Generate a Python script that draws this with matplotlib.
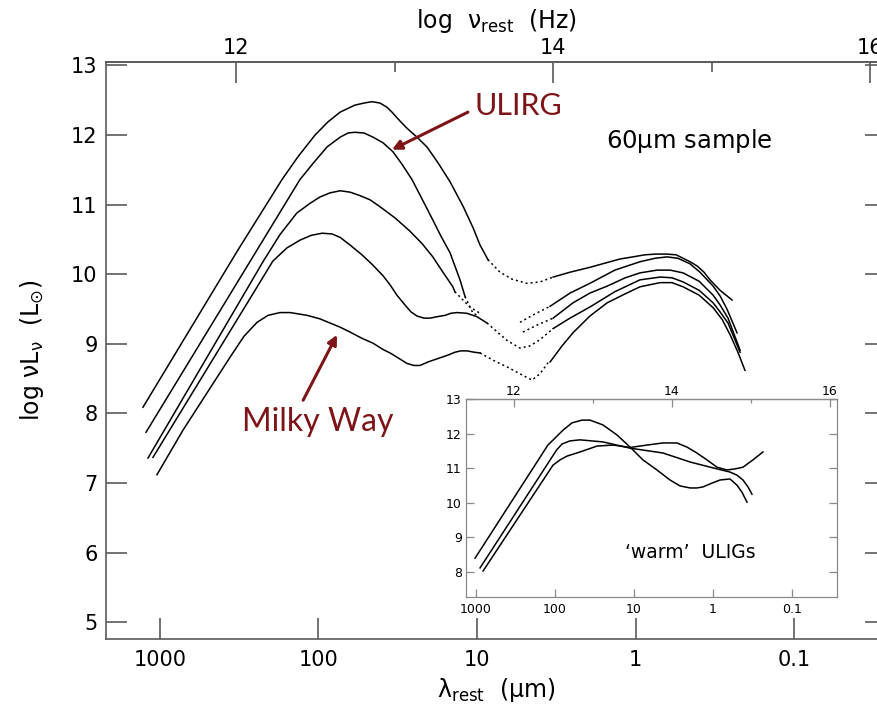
import numpy as np
import matplotlib
matplotlib.use('Agg')
import matplotlib.pyplot as plt
from matplotlib.ticker import FixedLocator, NullLocator, FixedFormatter, NullFormatter

plt.rcParams['font.family'] = ['DejaVu Sans']
plt.rcParams['mathtext.default'] = 'regular'

# ---- main panel: 60 um sample (lambda_rest in um, log nuL_nu in Lsun)
# each SED: far-IR solid part, dotted gap, near-IR solid part
lam_a = [1280, 322, 170, 134.6, 105.2, 87.1, 73, 59, 51.6, 46, 40.9, 37, 34.4, 32, 29.7, 27.7,
         23.9, 20.7, 17.6, 14.8, 12.2, 10.6, 9.57, 8.53]
L_a = [8.09, 10.35, 11.36, 11.69, 12.00, 12.19, 12.33, 12.43, 12.46, 12.48, 12.46, 12.40, 12.33,
       12.25, 12.17, 12.10, 11.97, 11.83, 11.60, 11.33, 10.97, 10.67, 10.42, 10.21]
lam_a_dot = [8.53, 7.16, 6.01, 4.84, 4.01, 3.31]
L_a_dot = [10.21, 10.03, 9.93, 9.87, 9.89, 9.96]
lam_a_nir = [3.31, 2.59, 1.94, 1.56, 1.25, 1.04, 0.871, 0.743, 0.633, 0.555, 0.501, 0.453, 0.409,
             0.370, 0.339, 0.293, 0.246]
L_a_nir = [9.96, 10.03, 10.10, 10.16, 10.22, 10.25, 10.28, 10.29, 10.29, 10.28, 10.23, 10.18,
           10.12, 10.03, 9.92, 9.77, 9.63]

lam_b = [1225, 244, 131, 106.7, 88.3, 73, 65.1, 59, 51.6, 45.3, 39.2, 33.9, 29.7, 25.7, 22.2,
         19.0, 16.9, 14.8, 12.8, 11.9]
L_b = [7.73, 10.35, 11.36, 11.61, 11.83, 11.97, 12.03, 12.04, 12.03, 11.97, 11.89, 11.76, 11.58,
       11.36, 11.08, 10.78, 10.55, 10.31, 9.92, 9.68]
lam_b_dot = [11.9, 10.6, 9.86, np.nan, 5.36, 4.31, 3.46]
L_b_dot = [9.68, 9.44, 9.41, np.nan, 9.31, 9.43, 9.54]
lam_b_nir = [3.46, 2.59, 1.94, 1.35, 0.938, 0.753, 0.633, 0.540, 0.453, 0.392, 0.324, 0.293,
             0.265, 0.229]
L_b_nir = [9.54, 9.73, 9.87, 10.06, 10.18, 10.23, 10.25, 10.23, 10.15, 10.03, 9.83, 9.69,
           9.50, 9.16]

lam_c = [1190, 224, 175, 137, 113, 98, 84.6, 73, 63.2, 54.7, 47.3, 40.9, 32.9, 26.5, 22.2, 19.0,
         16.4, 14.2, 13.8]
L_c = [7.36, 10.18, 10.57, 10.88, 11.02, 11.11, 11.17, 11.20, 11.18, 11.13, 11.07, 10.97, 10.81,
       10.62, 10.44, 10.25, 10.03, 9.82, 9.75]
lam_c_dot = [13.8, 11.1, 9.57, np.nan, 5.13, 4.19, 3.31]
L_c_dot = [9.75, 9.53, 9.44, np.nan, 9.17, 9.27, 9.37]
lam_c_nir = [3.31, 2.48, 1.94, 1.51, 1.16, 0.938, 0.731, 0.605, 0.501, 0.397, 0.324, 0.293,
             0.261, 0.219]
L_c_nir = [9.37, 9.59, 9.73, 9.83, 9.95, 10.02, 10.06, 10.06, 10.02, 9.90, 9.70, 9.56, 9.37, 8.91]

lam_d = [1107, 274, 194, 158, 131, 111, 95, 82.2, 73, 63.2, 53.2, 45.3, 39.2, 35.4, 32, 28.5,
         26.1, 23.9, 21.6, 19.8, 17.9, 15.9, 14.6, 13.4, 11.6, 10.0, 8.65]
L_d = [7.37, 9.63, 10.19, 10.38, 10.49, 10.56, 10.59, 10.58, 10.53, 10.42, 10.28, 10.13, 9.98,
       9.85, 9.70, 9.56, 9.46, 9.40, 9.37, 9.37, 9.39, 9.41, 9.44, 9.45, 9.44, 9.39, 9.30]
lam_d_dot = [8.65, 7.7, 6.47, 5.36, 4.64, 4.01, 3.31]
L_d_dot = [9.30, 9.20, 9.05, 8.94, 8.97, 9.06, 9.22]
lam_d_nir = [3.31, 2.59, 1.94, 1.35, 0.938, 0.700, 0.589, 0.501, 0.397, 0.324, 0.293, 0.261, 0.219]
L_d_nir = [9.22, 9.37, 9.53, 9.75, 9.92, 9.96, 9.95, 9.89, 9.77, 9.59, 9.46, 9.30, 8.88]

# Milky Way
lam_e = [1045, 716, 361, 295, 244, 208, 175, 151, 118, 98, 84.6, 73, 63.2, 53.2, 45.3, 39.2,
         35.4, 31.5, 27.7, 25.0, 22.9, 20.4, 17.1, 15.2, 13.8, 12.6, 11.6, 10.4, 9.57]
L_e = [7.12, 7.76, 8.81, 9.11, 9.31, 9.41, 9.45, 9.45, 9.41, 9.36, 9.30, 9.24, 9.17, 9.08, 9.01,
       8.92, 8.87, 8.80, 8.72, 8.69, 8.69, 8.74, 8.80, 8.84, 8.88, 8.90, 8.90, 8.88, 8.87]
lam_e_dot = [9.57, 7.69, 6.47, 5.36, 4.50, 4.01, 3.56]
L_e_dot = [8.87, 8.75, 8.67, 8.57, 8.48, 8.57, 8.73]
lam_e_nir = [3.46, 2.91, 2.48, 1.94, 1.51, 1.16, 0.938, 0.700, 0.589, 0.501, 0.397, 0.324, 0.284,
             0.253, 0.226, 0.204]
L_e_nir = [8.74, 8.97, 9.16, 9.40, 9.59, 9.72, 9.82, 9.88, 9.88, 9.82, 9.70, 9.52, 9.35, 9.13,
           8.88, 8.62]

# ---- inset: 'warm' ULIGs
lam_w1 = [1030, 123, 97, 79.2, 61, 45.5, 36.1, 24.7, 16.4, 11.2, 7.7, 5.12, 3.50, 2.62, 1.95,
          1.60, 1.34, 1.03, 0.815, 0.609, 0.497, 0.430, 0.371]
L_w1 = [8.40, 11.67, 11.90, 12.10, 12.31, 12.39, 12.39, 12.25, 11.96, 11.61, 11.24, 10.95, 10.66,
        10.49, 10.43, 10.43, 10.46, 10.57, 10.66, 10.69, 10.51, 10.31, 10.02]
lam_w2 = [890, 95.3, 81.5, 64.6, 48.3, 24.7, 11.2, 4.30, 1.95, 1.0, 0.609, 0.497, 0.417, 0.360, 0.321]
L_w2 = [8.12, 11.53, 11.70, 11.79, 11.82, 11.76, 11.58, 11.44, 11.18, 11.01, 10.89, 10.80, 10.66,
        10.46, 10.25]
lam_w3 = [815, 106, 86.5, 70.5, 48.3, 29.4, 18.5, 11.2, 6.84, 4.30, 2.86, 2.13, 1.60, 1.19, 0.89,
          0.665, 0.527, 0.417, 0.312, 0.233]
L_w3 = [8.03, 11.09, 11.24, 11.35, 11.47, 11.64, 11.67, 11.60, 11.67, 11.73, 11.73, 11.61, 11.44,
        11.24, 11.03, 10.95, 10.98, 11.03, 11.24, 11.47]

lam_ticks = [1000, 100, 10, 1, 0.1]
lam_ticklabels = ['1000', '100', '10', '1', '0.1']
nu_major = [12, 14, 16]
nu_minor = [13, 15]
nu_offset = 14.52   # log nu = nu_offset - log lambda(um), as drawn on the top axis

red = '#7d1518'
spine_col = '#5a5a5a'


def lam2nu(x):
    return nu_offset - np.log10(x)


def nu2lam(n):
    return 10 ** (nu_offset - np.asarray(n))


def style_axes(a, size, length, labelsize, pad_x, pad_y, col, lw):
    a.set_xscale('log')
    a.xaxis.set_major_locator(FixedLocator(lam_ticks))
    a.xaxis.set_major_formatter(FixedFormatter(lam_ticklabels))
    a.xaxis.set_minor_locator(NullLocator())
    a.tick_params(axis='both', direction='in', length=length, width=lw, color=col,
                  labelsize=labelsize, right=True, top=False)
    a.tick_params(axis='x', pad=pad_x)
    a.tick_params(axis='y', pad=pad_y)
    for s in a.spines.values():
        s.set_color(col)
        s.set_linewidth(lw)
    sec = a.secondary_xaxis('top', functions=(lam2nu, nu2lam))
    sec.xaxis.set_major_locator(FixedLocator(nu_major))
    sec.xaxis.set_major_formatter(FixedFormatter([str(v) for v in nu_major]))
    sec.xaxis.set_minor_locator(FixedLocator(nu_minor))
    sec.xaxis.set_minor_formatter(NullFormatter())
    sec.tick_params(axis='x', which='major', direction='in', length=length, width=lw,
                    color=col, labelsize=labelsize, pad=size)
    sec.tick_params(axis='x', which='minor', direction='in', length=length * 0.5,
                    width=lw, color=col)
    sec.spines['top'].set_color(col)
    sec.spines['top'].set_linewidth(lw)
    return sec


fig = plt.figure(figsize=(8.78, 7.04), dpi=100)
ax = fig.add_axes([106 / 878, 1 - 639 / 704, 780 / 878, 577 / 704])
ax.set_xscale('log')
ax.set_xlim(2190, 0.0263)
ax.set_ylim(4.76, 13.05)
ax.set_yticks([5, 6, 7, 8, 9, 10, 11, 12, 13])
sec = style_axes(ax, 3, 15, 15, 8, 6, spine_col, 1.2)

solid = dict(color='black', lw=1.1, solid_joinstyle='round')
dots = dict(color='black', lw=1.1, linestyle=(0, (1.3, 2.0)))
for lf, Lf, ld, Ldd, ln, Ln in [
        (lam_a, L_a, lam_a_dot, L_a_dot, lam_a_nir, L_a_nir),
        (lam_b, L_b, lam_b_dot, L_b_dot, lam_b_nir, L_b_nir),
        (lam_c, L_c, lam_c_dot, L_c_dot, lam_c_nir, L_c_nir),
        (lam_d, L_d, lam_d_dot, L_d_dot, lam_d_nir, L_d_nir),
        (lam_e, L_e, lam_e_dot, L_e_dot, lam_e_nir, L_e_nir)]:
    ax.plot(lf, Lf, **solid)
    ax.plot(ld, Ldd, **dots)
    ax.plot(ln, Ln, **solid)

ax.set_xlabel(r'$\lambda_{rest}$  ($\mu$m)', fontsize=17, labelpad=4)
ax.set_ylabel(r'log $\nu$L$_{\nu}$  (L$_{\odot}$)', fontsize=17, labelpad=18)
sec.set_xlabel(r'log  $\nu_{rest}$  (Hz)', fontsize=17, labelpad=7)

ax.text(1.53, 11.92, r'60$\mu$m sample', fontsize=17.5, ha='left', va='center')
ax.text(10.3, 12.29, 'ULIRG', fontsize=22, color=red, family=['Lato', 'DejaVu Sans'],
        ha='left', va='baseline')
ax.text(304, 7.75, 'Milky Way', fontsize=23, color=red, family=['Lato', 'DejaVu Sans'],
        ha='left', va='baseline')
arrow = dict(arrowstyle='-|>', color=red, lw=2.2, mutation_scale=14, shrinkA=0, shrinkB=0)
ax.annotate('', xy=(34.4, 11.79), xytext=(11.4, 12.33), arrowprops=arrow)
ax.annotate('', xy=(76.4, 9.13), xytext=(125, 8.19), arrowprops=arrow)

# ---- inset
axin = fig.add_axes([466 / 878, 1 - 597 / 704, 371 / 878, 198 / 704], zorder=3)
axin.set_xscale('log')
axin.set_xlim(1340, 0.0269)
axin.set_ylim(7.28, 13.0)
axin.set_yticks([8, 9, 10, 11, 12, 13])
style_axes(axin, 1, 6, 9, 4, 3, '#8a8a8a', 0.9)
for lw_, Lw_ in [(lam_w1, L_w1), (lam_w2, L_w2), (lam_w3, L_w3)]:
    axin.plot(lw_, Lw_, color='black', lw=1.1, solid_joinstyle='round')
axin.text(1.95, 8.58, "\u2018warm\u2019  ULIGs", fontsize=13.5, ha='center', va='center')

fig.savefig('out.png', dpi=100)
